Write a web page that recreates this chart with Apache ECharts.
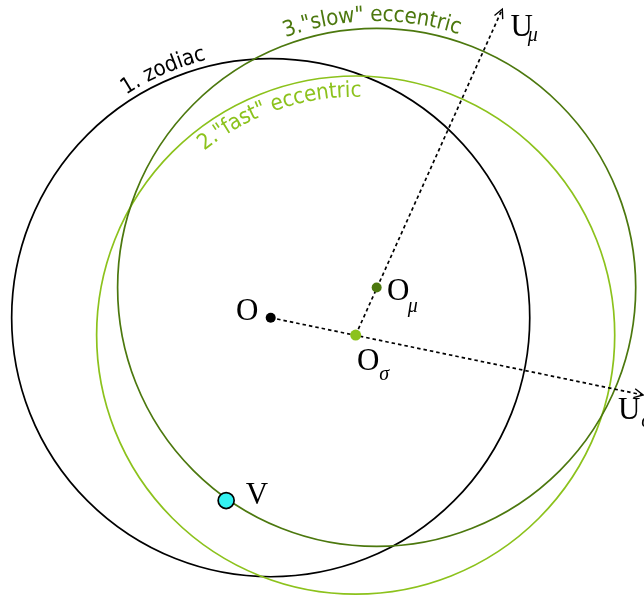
<!DOCTYPE html>
<html>
<head>
<meta charset="utf-8">
<script src="https://cdn.jsdelivr.net/npm/echarts@6/dist/echarts.min.js"></script>
<style>
html,body{margin:0;padding:0;background:#fff;}
#chart{width:644px;height:601px;}
</style>
</head>
<body>
<div id="chart"></div>
<script>
// ---- data (units: zodiac radius = 100, O at origin) ----
const pointNames = ['O', 'Oσ', 'Oμ', 'V'];
const pointX = [0, 32.8, 40.9, -17.2];
const pointY = [0, -6.7, 11.7, -70.6];

const circleLabels = ['1. zodiac', '2."fast" eccentric', '3."slow" eccentric'];
const circleCenter = ['O', 'Oσ', 'Oμ'];
const circleRadius = [100, 100, 100];
const circleLabelAngle = [113.5, 109, 91];

const arrowFrom = ['O', 'Oσ'];
const arrowNames = ['Uσ', 'Uμ'];
const arrowToX = [143.75, 89.4];
const arrowToY = [-29.85, 119.2];

// ---- styles ----
const DARK = '#4c780e', LIGHT = '#8cc21c';
const circleColors = ['#000000', LIGHT, DARK];
const circleLabelOffset = [12.5, -15, 13]; // px, radial (text middle)
const pointColors = ['#000000', LIGHT, DARK, '#33f2f2'];
const pointSizes = [10, 11, 10, 16];
const labelStyle = {
  'O':  {main: 'O', sub: '', m: [-23.4, -6]},
  'Oσ': {main: 'O', sub: 'σ', m: [12.6, 26.7], s: [28.5, 40]},
  'Oμ': {main: 'O', sub: 'μ', m: [21.6, 4.4], s: [36, 19]},
  'V':  {main: 'V', sub: '', m: [30.7, -4.3]},
  'Uσ': {main: 'U', sub: 'σ', m: [-14, 16], s: [3, 27]},
  'Uμ': {main: 'U', sub: 'μ', m: [19.4, 19], s: [30.5, 26.5]}
};
const ARC_FONT = '22px "DejaVu Sans"';
const ARC_SX = 0.91;
const MAIN_FONT = '31px "Liberation Serif"';
const SUB_FONT = 'italic 20px "Liberation Serif"';

function pIdx(name) { return pointNames.indexOf(name); }

const measureCtx = document.createElement('canvas').getContext('2d');
function textW(t, font) { measureCtx.font = font; return measureCtx.measureText(t).width; }

const circleData = circleCenter.map((c, i) => [pointX[pIdx(c)], pointY[pIdx(c)], circleRadius[i], i]);
const arrowData = arrowFrom.map((f, i) => [pointX[pIdx(f)], pointY[pIdx(f)], arrowToX[i], arrowToY[i], i]);
const labelNames = pointNames.concat(arrowNames);
const labelData = labelNames.map((n, i) => i < pointNames.length ? [pointX[i], pointY[i], i] : [arrowToX[i - pointNames.length], arrowToY[i - pointNames.length], i]);

const chart = echarts.init(document.getElementById('chart'), null, {renderer: 'canvas'});
const option = {
  animation: false,
  backgroundColor: '#ffffff',
  grid: {left: 0, right: 0, top: 0, bottom: 0},
  xAxis: {type: 'value', min: -104.5, max: 144.1, show: false},
  yAxis: {type: 'value', min: -109.4, max: 122.7, show: false},
  series: [
    {
      type: 'custom', coordinateSystem: 'cartesian2d', data: circleData, z: 1,
      renderItem: function (params, api) {
        const i = api.value(3);
        const c = api.coord([api.value(0), api.value(1)]);
        const r = api.size([api.value(2), 0])[0];
        const children = [{
          type: 'circle', shape: {cx: c[0], cy: c[1], r: r},
          style: {fill: 'none', stroke: circleColors[i], lineWidth: 1.7}
        }];
        const rr = r + circleLabelOffset[i];
        const text = circleLabels[i];
        const chars = Array.from(text);
        const widths = chars.map(ch => textW(ch, ARC_FONT) * ARC_SX);
        const W = widths.reduce((a, b) => a + b, 0);
        const ang = circleLabelAngle[i] * Math.PI / 180;
        let cum = 0;
        chars.forEach((ch, k) => {
          const mid = cum + widths[k] / 2;
          cum += widths[k];
          const th = ang + (W / 2 - mid) / rr;
          children.push({
            type: 'text',
            x: c[0] + rr * Math.cos(th), y: c[1] - rr * Math.sin(th),
            rotation: th - Math.PI / 2, scaleX: ARC_SX, scaleY: 1,
            style: {text: ch, fill: circleColors[i], font: ARC_FONT,
              align: 'center', verticalAlign: 'middle', textAlign: 'center', textVerticalAlign: 'middle'}
          });
        });
        return {type: 'group', children: children};
      }
    },
    {
      type: 'custom', coordinateSystem: 'cartesian2d', data: arrowData, z: 2,
      renderItem: function (params, api) {
        const p0 = api.coord([api.value(0), api.value(1)]);
        const p1 = api.coord([api.value(2), api.value(3)]);
        const dx = p1[0] - p0[0], dy = p1[1] - p0[1];
        const L = Math.sqrt(dx * dx + dy * dy);
        const ux = dx / L, uy = dy / L, nx = -uy, ny = ux;
        const hl = 9, hw = 4.5;
        return {type: 'group', children: [
          {type: 'line', shape: {x1: p0[0], y1: p0[1], x2: p1[0] - ux * 1, y2: p1[1] - uy * 1},
            style: {stroke: '#000', lineWidth: 1.7, lineDash: [3.5, 3]}},
          {type: 'polyline', shape: {points: [
            [p1[0] - ux * hl + nx * hw, p1[1] - uy * hl + ny * hw],
            [p1[0], p1[1]],
            [p1[0] - ux * hl - nx * hw, p1[1] - uy * hl - ny * hw]]},
            style: {stroke: '#000', lineWidth: 1.4, fill: 'none'}}
        ]};
      }
    },
    {
      type: 'scatter', z: 3,
      data: pointNames.map((n, i) => ({
        value: [pointX[i], pointY[i]], name: n, symbolSize: pointSizes[i],
        itemStyle: {color: pointColors[i], borderColor: n === 'V' ? '#000' : pointColors[i], borderWidth: n === 'V' ? 1.7 : 0, opacity: 1}
      }))
    },
    {
      type: 'custom', coordinateSystem: 'cartesian2d', data: labelData, z: 4,
      renderItem: function (params, api) {
        const n = labelNames[api.value(2)];
        const st = labelStyle[n];
        const c = api.coord([api.value(0), api.value(1)]);
        const ch = [{type: 'text', x: c[0] + st.m[0], y: c[1] + st.m[1],
          style: {text: st.main, fill: '#000', font: MAIN_FONT, align: 'center', verticalAlign: 'middle', textAlign: 'center', textVerticalAlign: 'middle'}}];
        if (st.sub) ch.push({type: 'text', x: c[0] + st.s[0], y: c[1] + st.s[1],
          style: {text: st.sub, fill: '#000', font: SUB_FONT, align: 'center', verticalAlign: 'middle', textAlign: 'center', textVerticalAlign: 'middle'}});
        return {type: 'group', children: ch};
      }
    }
  ]
};
chart.setOption(option);
</script>
</body>
</html>
